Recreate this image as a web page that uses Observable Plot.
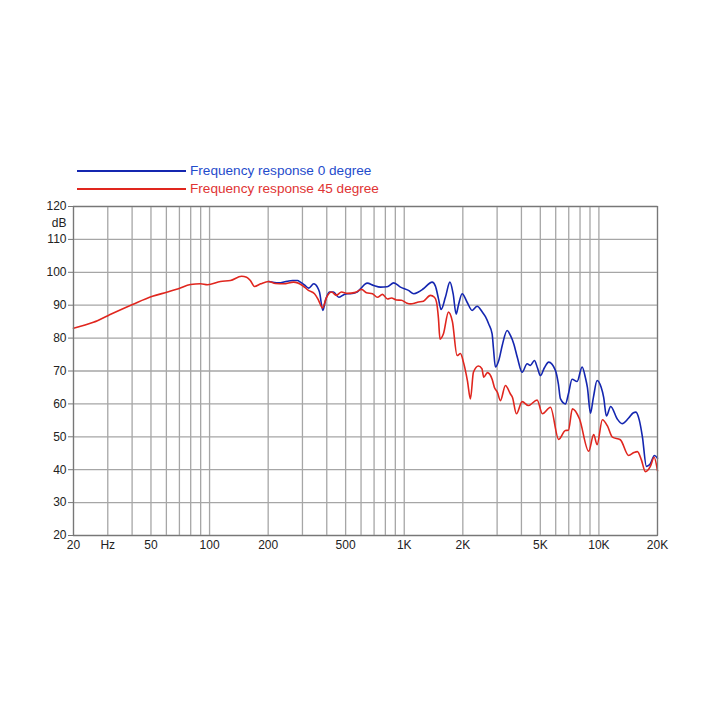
<!DOCTYPE html>
<html>
<head>
<meta charset="utf-8">
<script src="https://cdn.jsdelivr.net/npm/d3@7"></script>
<script src="https://cdn.jsdelivr.net/npm/@observablehq/plot@0.6"></script>
<style>
  html, body { margin: 0; padding: 0; background: #fff; }
  #wrap { width: 718px; height: 718px; position: relative; font-family: "Liberation Sans", Arial, sans-serif; }
  #legend { position: relative; height: 196px; }
  .lg-line { position: absolute; left: 77px; width: 109px; height: 2px; }
  .lg-text { position: absolute; left: 190px; font-size: 13.6px; line-height: 16px; white-space: nowrap; }
</style>
</head>
<body>
<div id="wrap">
  <div id="legend"></div>
  <div id="chart"></div>
</div>
<script>
// ---- data ----
const seriesNames = ["Frequency response 0 degree", "Frequency response 45 degree"];
const seriesColors = ["#1426b0", "#e0261e"];
const legendTextColors = ["#1f4ccc", "#e03434"];

const freq0 = [201,226,251,267,283,293,307,323,343,358,367,382,394,413,433,461,489,511,529,573,596,645,697,755,817,883,956,1051,1119,1183,1255,1391,1446,1499,1547,1627,1717,1783,1848,1898,1984,2104,2233,2368,2513,2613,2716,2828,2872,2941,3058,3194,3377,3512,3651,3815,4033,4278,4448,4664,4832,5006,5250,5523,5978,6194,6342,6728,6971,7282,7727,8199,8524,8728,9045,9371,9790,10260,10580,10930,11500,12400,13160,14220,15040,15490,16140,16730,17540,18030,18380,19280,20000];
const db0 = [97.2,96.8,97.3,97.5,97.5,97.0,96.2,95.2,96.5,95.5,94,88.4,91.5,94.0,94.0,92.4,93.2,93.5,93.5,94,95,96.7,96,95.5,95.6,96.8,95.5,94.5,93.5,94,95,97,95.8,92,88.7,92.4,97,93.5,87.3,90,93.5,90.9,88.4,89.7,88.0,86.5,84.3,81.3,77,71.2,73.2,78,82.3,80.8,78.3,74,69.6,72.2,71.7,73.2,71,68.6,71,72.7,70.2,66,61.6,60,63,67.5,66.8,71.2,68,65,57.2,62,67.1,65.1,62,56.3,59.2,55.5,54,55.7,57.3,57.5,55,50,41,41.3,41.8,44.3,43.5];

const freq45 = [20,25.3,30.2,40.2,50.9,60.8,69.2,79.8,89.8,97.6,113.7,128,146,155,162,170,183,201,218,240,270,300,322,346,363,380,399,423,448,476,511,562,603,640,687,728,773,820,860,912,967,1026,1076,1128,1169,1255,1363,1429,1464,1499,1526,1590,1687,1768,1869,1944,2014,2112,2188,2267,2405,2507,2561,2675,2828,2906,3011,3120,3310,3512,3595,3770,4033,4345,4815,5127,5636,6217,6728,6971,7308,7943,8864,9403,9790,10420,11060,11730,12890,14220,15120,15770,16530,17330,18380,19210,20000];
const db45 = [83.0,84.8,86.9,90.2,92.7,94.0,95.0,96.3,96.5,96.2,97.2,97.5,98.8,98.5,97.5,95.7,96.5,97.2,96.6,96.5,97.0,96.0,94.5,93.5,91.5,89.2,92.4,94.0,93.0,94.0,93.6,93.9,94.8,93.8,93.5,92.4,93.3,91.9,92.2,91.6,91.5,90.7,90.4,90.6,90.9,91.2,93.0,92.4,91.0,86.0,79.7,81.3,87.9,85.0,74.7,75.3,72.7,67,61.5,69.6,71.5,70.7,68.1,69.5,67.5,65,63.5,61,65.6,63,62,57,60.7,59.5,61.2,57,59,49.2,51.9,52,58.5,55.5,45.6,50.7,47.6,55.2,53.3,49.9,49.1,44.3,45.2,45.5,43.0,39.4,41.0,43.8,39.7];

const xGrid = [20,30,40,50,60,70,80,90,100,200,300,400,500,600,700,800,900,1000,2000,3000,4000,5000,6000,7000,8000,9000,10000,20000];
const xTicks = [20,30,50,100,200,500,1000,2000,5000,10000,20000];
const xTickLabels = ["20","Hz","50","100","200","500","1K","2K","5K","10K","20K"];
const yTicks = [20,30,40,50,60,70,80,90,100,110,120];
const yUnitAt = [115];
const yUnitLabel = "dB";

// ---- legend ----
const legend = document.getElementById("legend");
const rowCenters = [171, 189];
seriesNames.forEach((name, i) => {
  const ln = document.createElement("div");
  ln.className = "lg-line";
  ln.style.top = (rowCenters[i] - 1) + "px";
  ln.style.background = seriesColors[i];
  legend.appendChild(ln);
  const tx = document.createElement("div");
  tx.className = "lg-text";
  tx.style.top = (rowCenters[i] - 8) + "px";
  tx.style.color = legendTextColors[i];
  tx.textContent = name;
  legend.appendChild(tx);
});

// ---- chart ----
const d0 = freq0.map((f, i) => ({f, db: db0[i]}));
const d45 = freq45.map((f, i) => ({f, db: db45[i]}));
const xLabels = xTicks.map((t, i) => ({t, label: xTickLabels[i]}));

const chart = Plot.plot({
  width: 718,
  height: 522,
  marginTop: 10,
  marginBottom: 183,
  marginLeft: 73,
  marginRight: 61,
  style: {fontFamily: "'Liberation Sans', Arial, sans-serif", fontSize: "12px", color: "#222", background: "#fff"},
  x: {type: "log", domain: [20, 20000], axis: null},
  y: {domain: [20, 120]},
  marks: [
    Plot.ruleX(xGrid, {stroke: "#a6a6a6", strokeWidth: 1.3}),
    Plot.ruleY(yTicks, {stroke: "#a6a6a6", strokeWidth: 1.3}),
    Plot.line(d0, {x: "f", y: "db", stroke: seriesColors[0], strokeWidth: 1.6, curve: "monotone-x"}),
    Plot.line(d45, {x: "f", y: "db", stroke: seriesColors[1], strokeWidth: 1.6, curve: "monotone-x"}),
    Plot.frame({stroke: "#777", strokeWidth: 1.2}),
    Plot.text(xLabels, {x: "t", frameAnchor: "bottom", dy: 13, text: "label", fill: "#222", fontSize: 12}),
    Plot.axisY({ticks: yTicks, tickSize: 5, tickPadding: 2, tickFormat: (d) => String(d), label: null, fill: "#222", stroke: "#777"}),
    Plot.axisY({ticks: yUnitAt, tickSize: 0, tickPadding: 7, tickFormat: () => yUnitLabel, label: null, fill: "#222"})
  ]
});
document.getElementById("chart").appendChild(chart);
</script>
</body>
</html>
